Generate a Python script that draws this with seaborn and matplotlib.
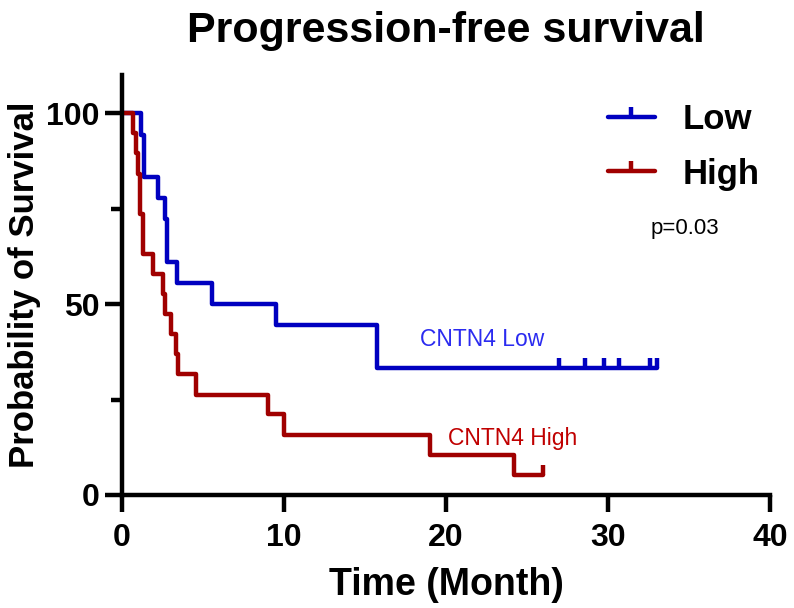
import numpy as np
import pandas as pd
import matplotlib
matplotlib.use("Agg")
import matplotlib.pyplot as plt
from matplotlib.path import Path
from matplotlib.lines import Line2D
import seaborn as sns

# ---- data (time in months, survival in %) ----
low_times = [0, 1.15, 1.36, 2.2, 2.68, 2.8, 3.4, 5.55, 9.5, 15.75, 33.0]
low_surv = [100, 94.4, 83.3, 77.8, 72.2, 61.1, 55.6, 50.0, 44.4, 33.3, 33.3]
low_censor = [26.97, 28.6, 29.75, 30.7, 32.6, 33.0]

high_times = [0, 0.7, 0.85, 1.0, 1.11, 1.31, 1.91, 2.51, 2.65, 3.02, 3.31, 3.48,
              4.55, 8.99, 10.0, 19.0, 24.2, 26.0]
high_surv = [100, 94.7, 89.5, 84.2, 73.7, 63.2, 57.9, 52.6, 47.4, 42.1, 36.8, 31.6,
             26.3, 21.1, 15.8, 10.5, 5.3, 5.3]
high_censor = [26.0]

groups = ["Low", "High"]
curve_labels = ["CNTN4 Low", "CNTN4 High"]
p_text = "p=0.03"
x_ticks = [0, 10, 20, 30, 40]
y_ticks = [0, 50, 100]

BLUE = "#0000C0"
RED = "#A00000"
BLUE_TXT = "#2B2BF0"
RED_TXT = "#C00000"

sns.set_style("ticks")
plt.rcParams["font.family"] = ["Liberation Sans", "DejaVu Sans"]
for k in ["text.color", "axes.labelcolor", "xtick.color", "ytick.color", "axes.edgecolor"]:
    plt.rcParams[k] = "black"

fig = plt.figure(figsize=(7.94, 6.08), dpi=100)
ax = fig.add_axes([122 / 794, 1 - 495 / 608, (770 - 122) / 794, (495 - 75) / 608])

df = pd.concat([
    pd.DataFrame({"t": low_times, "s": low_surv, "g": "Low"}),
    pd.DataFrame({"t": high_times, "s": high_surv, "g": "High"}),
])
sns.lineplot(data=df, x="t", y="s", hue="g", palette={"Low": BLUE, "High": RED},
             estimator=None, sort=False, drawstyle="steps-post", lw=3.2,
             legend=False, ax=ax)

tick_marker = Path([(0, 0), (0, 1)])
cdf = pd.concat([
    pd.DataFrame({"t": low_censor, "s": [low_surv[-1]] * len(low_censor), "g": "Low"}),
    pd.DataFrame({"t": high_censor, "s": [high_surv[-1]] * len(high_censor), "g": "High"}),
])
for g, col in [("Low", BLUE), ("High", RED)]:
    sub = cdf[cdf.g == g]
    ax.plot(sub.t, sub.s, ls="none", marker=tick_marker, markersize=14,
            markeredgewidth=3.2, color=col)

ax.set_xlim(0, 40)
ax.set_ylim(0, 110)
ax.set_xticks(x_ticks)
ax.set_yticks(y_ticks)
ax.set_yticks([25, 75], minor=True)
sns.despine(ax=ax)
for s in ["left", "bottom"]:
    ax.spines[s].set_linewidth(3.2)
    ax.spines[s].set_color("black")
ax.spines["left"].set_bounds(0, 110)
ax.tick_params(axis="both", which="major", length=12, width=3.2, color="black",
               labelcolor="black", labelsize=23, pad=4)
ax.tick_params(axis="x", which="major", pad=8)
ax.tick_params(axis="y", which="minor", length=8, width=3.2, color="black")
for lab in ax.get_xticklabels() + ax.get_yticklabels():
    lab.set_fontweight("bold")

ax.set_xlabel("Time (Month)", fontsize=27, fontweight="bold", labelpad=10, color="black")
ax.set_ylabel("Probability of Survival", fontsize=25, fontweight="bold", labelpad=4,
              color="black")

fig.text((122 + 770) / 2 / 794, 1 - 42 / 608, "Progression-free survival",
         ha="center", va="baseline", fontsize=31, fontweight="bold", color="black")

ax.text(18.4, 40.6, curve_labels[0], color=BLUE_TXT, fontsize=16.5, ha="left", va="center")
ax.text(20.1, 14.7, curve_labels[1], color=RED_TXT, fontsize=16.5, ha="left", va="center")
ax.text(34.75, 69.8, p_text, fontsize=16, ha="center", va="center", color="black")

handles = [Line2D([0, 1], [0, 0], color=c, lw=3.2, marker=tick_marker,
                  markersize=14, markeredgewidth=3.2) for c in (BLUE, RED)]
leg = ax.legend(handles, groups, loc="upper left", bbox_to_anchor=(608 / 794, 1 - 103 / 608),
                bbox_transform=fig.transFigure, frameon=False, numpoints=1,
                handlelength=1.35, handletextpad=0.8, labelspacing=0.62, borderpad=0,
                borderaxespad=0, prop={"size": 25, "weight": "bold"})
for t in leg.get_texts():
    t.set_color("black")

fig.savefig("out.png", dpi=100)
